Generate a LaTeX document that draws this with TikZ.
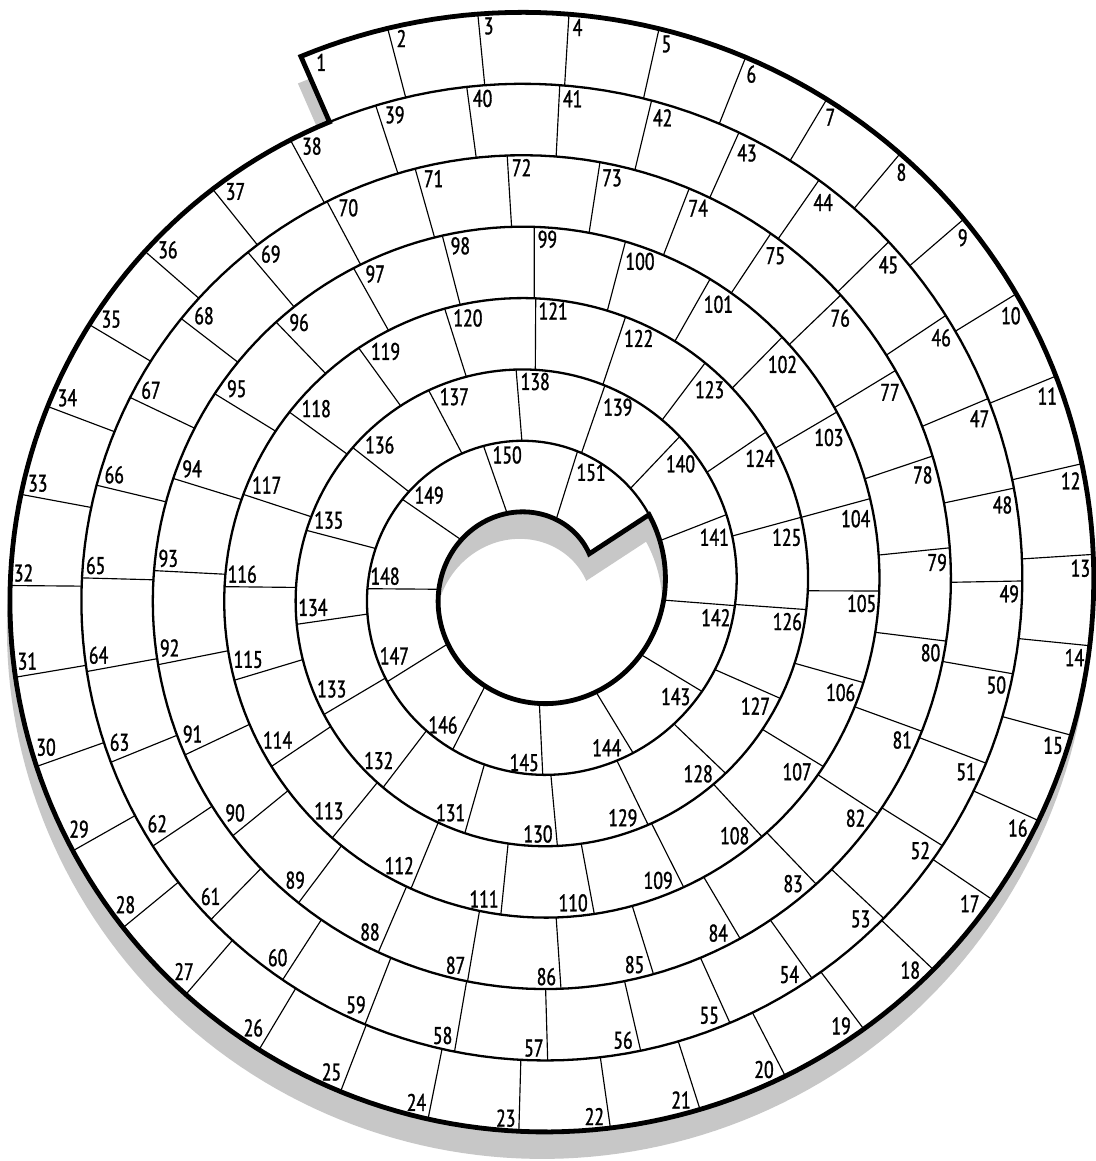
\documentclass[tikz,border=0pt]{standalone}
\usepackage{fontspec}
\newfontfamily\numfont{PT Sans}[FakeStretch=0.74,FakeBold=1.3]
\newcommand\boardshape[1]{%
  \fill[#1]
    plot[domain=113.6:-246.4,samples=240] (\x:{559.7+0.1985*\x}) -- cycle
    plot[domain=-2126.8:-2486.8,samples=240] (\x:{559.7+0.1985*\x}) -- cycle;}
\begin{document}
\begin{tikzpicture}[x=1pt,y=1pt,
  outline/.style={line width=4.8pt, line join=miter, miter limit=20},
  sepline/.style={line width=2.3pt},
  divider/.style={line width=1.15pt},
  lab/.style={inner sep=0pt, font=\numfont\fontsize{24}{25}\selectfont}]
\fill[white] (-534,-571) rectangle (561,590);
\useasboundingbox (-534,-571) rectangle (561,590);
% shadow and board
\boardshape{black!22, even odd rule, shift={(-3,-27)}}
\boardshape{white, even odd rule}
% ring separators (one continuous spiral)
\draw[sepline] plot[domain=-246.4:-2126.8,samples=950] (\x:{559.7+0.1985*\x});
% cell dividers and numbers
\foreach \pa/\pb/\nc/\fc in {113.6/-251.9/38/1, -251.9/-614.25/32/39,
   -614.25/-975.5/27/71, -975.5/-1332.4/22/98, -1332.4/-1682.2/17/120,
   -1682.2/-2050.7/13/137, -2050.7/-2126.8/2/150}{
  \pgfmathsetmacro\ma{(523.97+0.1985*\pa)/100}
  \pgfmathsetmacro\mb{(523.97+0.1985*\pb)/100}
  \pgfmathtruncatemacro\nl{\nc-1}
  \foreach \j in {0,...,\nl}{
    \pgfmathsetmacro\mj{sqrt(\ma*\ma-\j/\nc*(\ma*\ma-\mb*\mb))}
    \pgfmathsetmacro\ps{(100*\mj-523.97)/0.1985}
    \pgfmathsetmacro\ro{559.7+0.1985*\ps}
    \pgfmathsetmacro\ri{\ro-71.46}
    \pgfmathtruncatemacro\k{\fc+\j}
    \ifnum\k>1 \draw[divider] (\ps:\ro) -- (\ps:\ri); \fi
    \pgfmathsetmacro\sa{sin(\ps)}
    \pgfmathsetmacro\ca{cos(\ps)}
    \pgfmathsetmacro\hw{ifthenelse(\k<10,4.4,ifthenelse(\k<100,8.7,13))}
    \pgfmathsetmacro\pt{ifthenelse(\k==1,9,4.5)}
    \pgfmathsetmacro\dt{\pt+\hw*abs(\sa)+8*abs(\ca)}
    \pgfmathsetmacro\dn{4.5+\hw*abs(\ca)+8*abs(\sa)}
    \pgfmathsetmacro\lx{\ro*\ca+\dt*\sa-\dn*\ca}
    \pgfmathsetmacro\ly{\ro*\sa-\dt*\ca-\dn*\sa}
    \node[lab] (c\k) at (\lx,\ly) {\k};
  }
}
% thick outline: outer edge with start line, inner hole with end line
\draw[outline] plot[domain=113.6:-246.4,samples=240] (\x:{559.7+0.1985*\x}) -- cycle;
\draw[outline] plot[domain=-2126.8:-2486.8,samples=240] (\x:{559.7+0.1985*\x}) -- cycle;
\end{tikzpicture}
\end{document}
